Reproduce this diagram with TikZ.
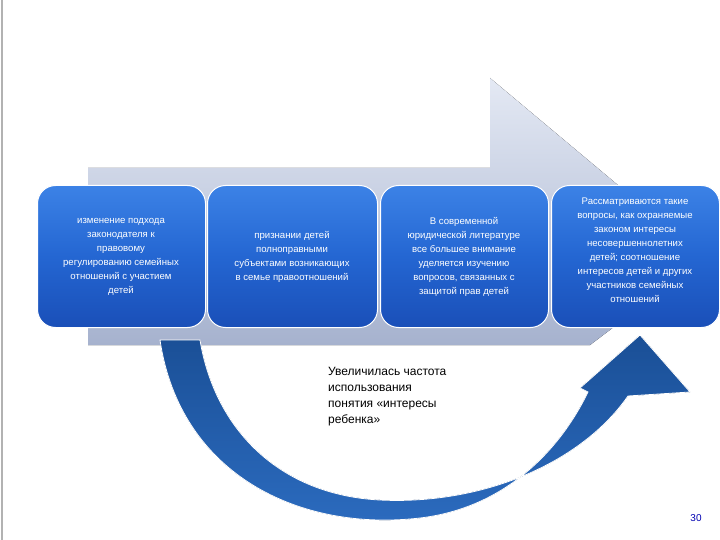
\documentclass[tikz,border=0pt]{standalone}
\usepackage{fontspec}
\setmainfont{Liberation Sans}
\definecolor{cardtop}{HTML}{3C82E6}
\definecolor{cardmid}{HTML}{2466D2}
\definecolor{cardbot}{HTML}{1A4FB8}
\definecolor{arrtop}{HTML}{E4E9F4}
\definecolor{arrbot}{HTML}{A6B2CE}
\definecolor{curvetop}{HTML}{1A4F96}
\definecolor{curvebot}{HTML}{2C6CC0}
\begin{document}
\begin{tikzpicture}[x=1pt,y=-1pt,
  card/.style={draw=white,line width=1pt,rounded corners=18pt,top color=cardtop,bottom color=cardbot,middle color=cardmid,anchor=north west},
  ctext/.style={text=white,font=\fontsize{9.6}{14}\selectfont,align=center}]
\useasboundingbox (0,0) rectangle (720,540);
\fill[white] (0,0) rectangle (720,540);
\draw[gray!60,line width=2pt] (2,0) -- (2,540);
% big arrow
\fill[top color=arrtop,bottom color=arrbot] (88,168) -- (490,168) -- (490,78) -- (705,258) -- (590,345) -- (88,345) -- cycle;
\node[card,minimum width=168pt,minimum height=142pt] (b1) at (37,185) {};
\node[ctext] (t1) at (121,257) {изменение подхода\\законодателя к\\правовому\\регулированию семейных\\отношений с участием\\детей};
\node[card,minimum width=170pt,minimum height=142pt] (b2) at (207,185) {};
\node[ctext] (t2) at (292,257) {признании детей\\полноправными\\субъектами возникающих\\в семье правоотношений};
\node[card,minimum width=168pt,minimum height=142pt] (b3) at (380,185) {};
\node[ctext] (t3) at (464,257) {В современной\\юридической литературе\\все большее внимание\\уделяется изучению\\вопросов, связанных с\\защитой прав детей};
\node[card,minimum width=168pt,minimum height=142pt] (b4) at (551,185) {};
\node[ctext] (t4) at (635,250) {Рассматриваются такие\\вопросы, как охраняемые\\законом интересы\\несовершеннолетних\\детей; соотношение\\интересов детей и других\\участников семейных\\отношений};
% curved arrow
\fill[top color=curvetop,bottom color=curvebot,draw=white,line width=0.8pt]
 (160,340) .. controls (180,475) and (300,532) .. (420,518)
 .. controls (505,508) and (560,450) .. (588,392)
 -- (580,388) -- (640,335) -- (690,392) -- (628,396)
 .. controls (580,465) and (480,505) .. (380,500)
 .. controls (280,495) and (215,430) .. (200,340) -- cycle;
\node[anchor=north west,align=left,font=\fontsize{12}{16}\selectfont,inner sep=0pt] (lbl) at (328,367) {Увеличилась частота\\использования\\понятия «интересы\\ребенка»};
\node[text=blue!70!black,font=\fontsize{10}{12}\selectfont] (pg) at (696,518) {30};
\end{tikzpicture}
\end{document}
